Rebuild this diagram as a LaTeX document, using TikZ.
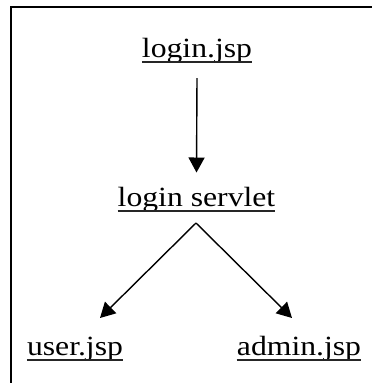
\documentclass[tikz,border=0pt]{standalone}
\usepackage{fontspec}
\setmainfont{Liberation Serif}[FakeStretch=1.14]
\usetikzlibrary{arrows.meta}
\tikzset{
  page/.style={line width=2.5pt, line cap=rect},
  label/.style={inner sep=0pt, anchor=base, font=\fontsize{27.8}{30}\selectfont},
  uline/.style={line width=1.4pt, black!85},
  arr/.style={line width=1.4pt, -{Triangle[length=15pt,width=16pt]}},
}
\newcommand{\uln}[1]{\draw[uline] ([yshift=-5pt]#1.base west) -- ([yshift=-5pt]#1.base east);}
\begin{document}
\begin{tikzpicture}[x=1pt,y=-1pt]
  \useasboundingbox (0,0) rectangle (372,383);
  % frame (only top and left edges fall inside the page)
  \draw[page] (11,400) -- (11,7) -- (400,7);

  % pages and servlet
  \node[label] (jsp)     at (197,57)    {login.jsp};
  \node[label] (servlet) at (196.5,206) {login servlet};
  \node[label] (user)    at (75,355)    {user.jsp};
  \node[label] (admin)   at (299,355)   {admin.jsp};
  \uln{jsp} \uln{servlet} \uln{user} \uln{admin}

  % connectors
  \coordinate (fork)     at (196,223);
  \coordinate (userTip)  at (100,318);
  \coordinate (adminTip) at (292,318);
  \draw[arr] ([yshift=-15pt]jsp.south) -- ([yshift=14pt]servlet.north);
  \draw[arr] (fork) -- (userTip);
  \draw[arr] (fork) -- (adminTip);
\end{tikzpicture}
\end{document}
